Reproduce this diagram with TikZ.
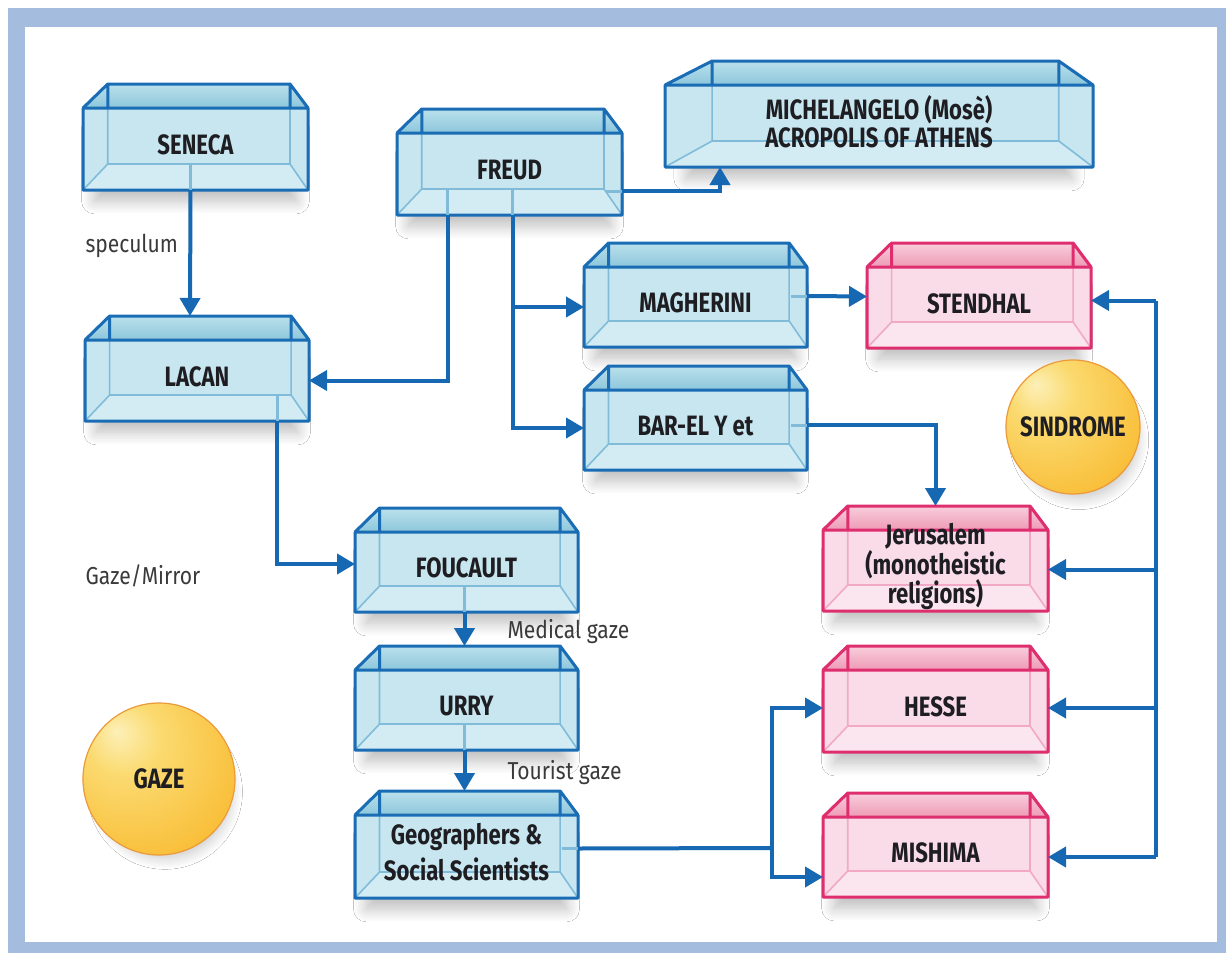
\documentclass[tikz,border=0pt]{standalone}
\usepackage{fontspec}
\setmainfont{Fira Sans}
\newfontfamily\boxfont[FakeStretch=0.79]{Fira Sans}
\newfontfamily\notefont[FakeStretch=0.86]{Fira Sans}
\usetikzlibrary{arrows.meta,shadows.blur,calc}

% palette
\definecolor{framecol}{HTML}{A4BCDD}
\definecolor{lineblue}{HTML}{1668B2}
\definecolor{blueedge}{HTML}{1A6DB5}
\definecolor{bluefill}{HTML}{C8E6EF}
\definecolor{bluefloor}{HTML}{D3ECF3}
\definecolor{bluelidA}{HTML}{BBE1EC}
\definecolor{bluelidB}{HTML}{8CC6DB}
\definecolor{blueinner}{HTML}{80BCDA}
\definecolor{pinkedge}{HTML}{DE2E6E}
\definecolor{pinkfill}{HTML}{F9DCE8}
\definecolor{pinkfloor}{HTML}{FBE5EE}
\definecolor{pinklidA}{HTML}{F8CEDC}
\definecolor{pinklidB}{HTML}{EE9AB5}
\definecolor{pinkinner}{HTML}{F2A9C3}
\definecolor{labeltext}{HTML}{1E1E22}
\definecolor{notetext}{HTML}{3A3A3A}
\definecolor{ballA}{HTML}{FCF0B8}
\definecolor{ballB}{HTML}{FBDA70}
\definecolor{ballC}{HTML}{F9C03C}
\definecolor{ballD}{HTML}{F6AC2A}
\definecolor{ballE}{HTML}{EE951C}
\definecolor{ballrim}{HTML}{EB9A3A}

\pgfdeclareradialshading{orangeball}{\pgfpoint{-14bp}{16bp}}{%
  color(0bp)=(ballA); color(12bp)=(ballB); color(34bp)=(ballC);
  color(54bp)=(ballD); color(70bp)=(ballE)}

\tikzset{
  boxshadow/.style={blur shadow={shadow xshift=0pt, shadow yshift=-17pt,
      shadow scale=0.9, shadow blur radius=14pt, shadow opacity=26,
      shadow blur steps=14}},
  blueface/.style={rectangle, inner sep=0pt, outer sep=0pt, fill=bluefill, boxshadow},
  pinkface/.style={rectangle, inner sep=0pt, outer sep=0pt, fill=pinkfill, boxshadow},
  bluefloor/.style={fill=bluefloor},
  pinkfloor/.style={fill=pinkfloor},
  bluelid/.style={top color=bluelidA, bottom color=bluelidB},
  pinklid/.style={top color=pinklidA, bottom color=pinklidB},
  blueinner/.style={draw=blueinner, line width=1.6pt, line join=round},
  pinkinner/.style={draw=pinkinner, line width=1.6pt, line join=round},
  blueedge/.style={draw=blueedge, line width=3pt, line join=round},
  pinkedge/.style={draw=pinkedge, line width=3pt, line join=round},
  boxlabel/.style={font=\boxfont\bfseries\fontsize{28}{23}\selectfont,
      text=labeltext, align=center},
  note/.style={font=\notefont\fontsize{24.5}{26}\selectfont, text=notetext, anchor=west},
  ball/.style={circle, inner sep=0pt, shading=orangeball, draw=ballrim,
      line width=1.2pt, font=\boxfont\bfseries\fontsize{28}{28}\selectfont,
      text=labeltext,
      blur shadow={shadow xshift=7pt, shadow yshift=-15pt, shadow scale=0.86,
      shadow blur radius=14pt, shadow opacity=24, shadow blur steps=14}},
  conn/.style={draw=lineblue, line width=4pt, line join=miter,
      -{Triangle[length=18pt,width=20pt]}},
  wire/.style={draw=lineblue, line width=4pt, line join=miter},
  stub/.style={draw=blueinner, line width=3pt},
}

% glass box: #1 scheme, #2 name, #3 left, #4 top, #5 right, #6 bottom (front face), #7 text
\newcommand\glassbox[7]{%
  \pgfmathsetmacro\gw{#5-#3}%
  \pgfmathsetmacro\gh{#6-#4}%
  \pgfmathsetmacro\gcx{(#3+#5)/2}%
  \pgfmathsetmacro\gcy{(#4+#6)/2}%
  \pgfmathsetmacro\gbl{#3+0.11*\gw}%
  \pgfmathsetmacro\gbr{#5-0.08*\gw}%
  \pgfmathsetmacro\gbt{#4-24}%
  \pgfmathsetmacro\gbb{#6-26}%
  \node[#1face, minimum width=\gw pt, minimum height=\gh pt] (#2) at (\gcx,\gcy) {};
  \fill[#1floor] (#3,#6) -- (\gbl,\gbb) -- (\gbr,\gbb) -- (#5,#6) -- cycle;
  \shade[#1lid] (#3,#4) -- (\gbl,\gbt) -- (\gbr,\gbt) -- (#5,#4) -- cycle;
  \draw[#1inner] (\gbl,#4) -- (\gbl,\gbb) -- (\gbr,\gbb) -- (\gbr,#4)
       (\gbl,\gbb) -- (#3,#6) (\gbr,\gbb) -- (#5,#6);
  \draw[#1edge] (#3,#4) -- (\gbl,\gbt) -- (\gbr,\gbt) -- (#5,#4)
       (\gbl,\gbt) -- (\gbl,#4) (\gbr,\gbt) -- (\gbr,#4)
       (#2.north west) rectangle (#2.south east);
  \node[boxlabel] (#2-text) at ([yshift=4pt]#2.center) {#7};
  \coordinate (#2-top) at (\gcx,\gbt);
}

\begin{document}
\begin{tikzpicture}[x=1pt,y=-1pt]
  % page and frame
  \useasboundingbox (0,0) rectangle (1226,953);
  \fill[white] (0,0) rectangle (1226,953);
  \fill[framecol] (8,8) rectangle (1226,953);
  \fill[white] (25,27) rectangle (1217,942);

  % boxes
  \glassbox{blue}{seneca}{83}{108}{308}{190}{SENECA}
  \glassbox{blue}{lacan}{85}{340}{309}{421}{LACAN}
  \glassbox{blue}{freud}{397}{133}{622}{215}{FREUD}
  \glassbox{blue}{mich}{665}{85}{1093}{167}{MICHELANGELO (Mosè)\\[3pt]ACROPOLIS OF ATHENS}
  \glassbox{blue}{magh}{584}{267}{807}{347}{MAGHERINI}
  \glassbox{blue}{barel}{584}{390}{807}{470}{BAR-EL Y et}
  \glassbox{pink}{stend}{867}{267}{1091}{348}{STENDHAL}
  \glassbox{pink}{jeru}{823}{530}{1048}{611}{Jerusalem\\(monotheistic\\religions)}
  \glassbox{pink}{hesse}{823}{670}{1048}{752}{HESSE}
  \glassbox{pink}{mish}{823}{817}{1048}{897}{MISHIMA}
  \glassbox{blue}{fouc}{355}{532}{578}{612}{FOUCAULT}
  \glassbox{blue}{urry}{355}{670}{578}{750}{URRY}
  \glassbox{blue}{geo}{355}{815}{578}{898}{Geographers \&\\[6pt]Social Scientists}

  % spheres
  \node[ball, minimum size=152pt] (gaze) at (159,779) {GAZE};
  \node[ball, minimum size=134pt] (sind) at (1073,427) {SINDROME};

  % free labels
  \node[note] (lspec) at (82,246) {speculum};
  \node[note] (lmirror) at (82,576) {Gaze/Mirror};
  \node[note] (lmed) at (504,632) {Medical gaze};
  \node[note] (ltour) at (504,773) {Tourist gaze};

  % lines seen through the glass
  \draw[stub] ([xshift=-5pt,yshift=26pt]seneca.south) -- ([xshift=-5pt]seneca.south);
  \draw[stub] ([xshift=-62pt,yshift=26pt]freud.south) -- ([xshift=-62pt]freud.south);
  \draw[stub] ([xshift=3pt,yshift=26pt]freud.south) -- ([xshift=3pt]freud.south);
  \draw[stub] ([xshift=80pt,yshift=26pt]lacan.south) -- ([xshift=80pt]lacan.south);
  \draw[stub] ([xshift=-2pt,yshift=26pt]fouc.south) -- ([xshift=-2pt]fouc.south);
  \draw[stub] ([xshift=-2pt,yshift=26pt]urry.south) -- ([xshift=-2pt]urry.south);
  \draw[stub] ([xshift=-16pt,yshift=-17pt]freud.east) -- ([yshift=-17pt]freud.east);
  \draw[stub] ([xshift=-16pt,yshift=11pt]magh.east) -- ([yshift=11pt]magh.east);
  \draw[stub] ([xshift=-16pt,yshift=5pt]barel.east) -- ([yshift=5pt]barel.east);
  \draw[stub] ([xshift=-16pt,yshift=8pt]geo.east) -- ([yshift=8pt]geo.east);

  % connectors
  \draw[conn] ([xshift=-5pt]seneca.south) -- ([xshift=-7pt]lacan-top);
  \draw[conn] ([xshift=-62pt]freud.south) |- (lacan.east);
  \draw[conn] ([xshift=3pt]freud.south) |- (magh.west);
  \draw[conn] ([xshift=3pt]freud.south) |- ([yshift=2pt]barel.west);
  \draw[conn] ([yshift=-17pt]freud.east) -| ([xshift=-159pt]mich.south);
  \draw[conn] ([yshift=11pt]magh.east) -- ([yshift=11pt]stend.west);
  \draw[conn] ([yshift=5pt]barel.east) -| (jeru-top);

  \coordinate (bus) at (1156,580);
  \draw[wire] (bus |- mish.east) -- ([yshift=7pt]bus |- stend.east);
  \draw[conn] ([yshift=7pt]bus |- stend.east) -- ([yshift=7pt]stend.east);
  \draw[conn] ([yshift=1pt]bus |- jeru.east) -- ([yshift=1pt]jeru.east);
  \draw[conn] ([yshift=3pt]bus |- hesse.east) -- ([yshift=3pt]hesse.east);
  \draw[conn] (bus |- mish.east) -- (mish.east);

  \draw[conn] ([xshift=80pt]lacan.south) |- ([yshift=8pt]fouc.west);
  \draw[conn] ([xshift=-2pt]fouc.south) -- ([xshift=-2pt]urry-top);
  \draw[conn] ([xshift=-2pt]urry.south) -- ([xshift=-2pt]geo-top);

  \coordinate (split) at (772,848);
  \draw[wire] ([yshift=8pt]geo.east) -- (split);
  \draw[conn] (split) |- ([yshift=3pt]hesse.west);
  \draw[conn] (split) |- ([yshift=-20pt]mish.west);
\end{tikzpicture}
\end{document}
